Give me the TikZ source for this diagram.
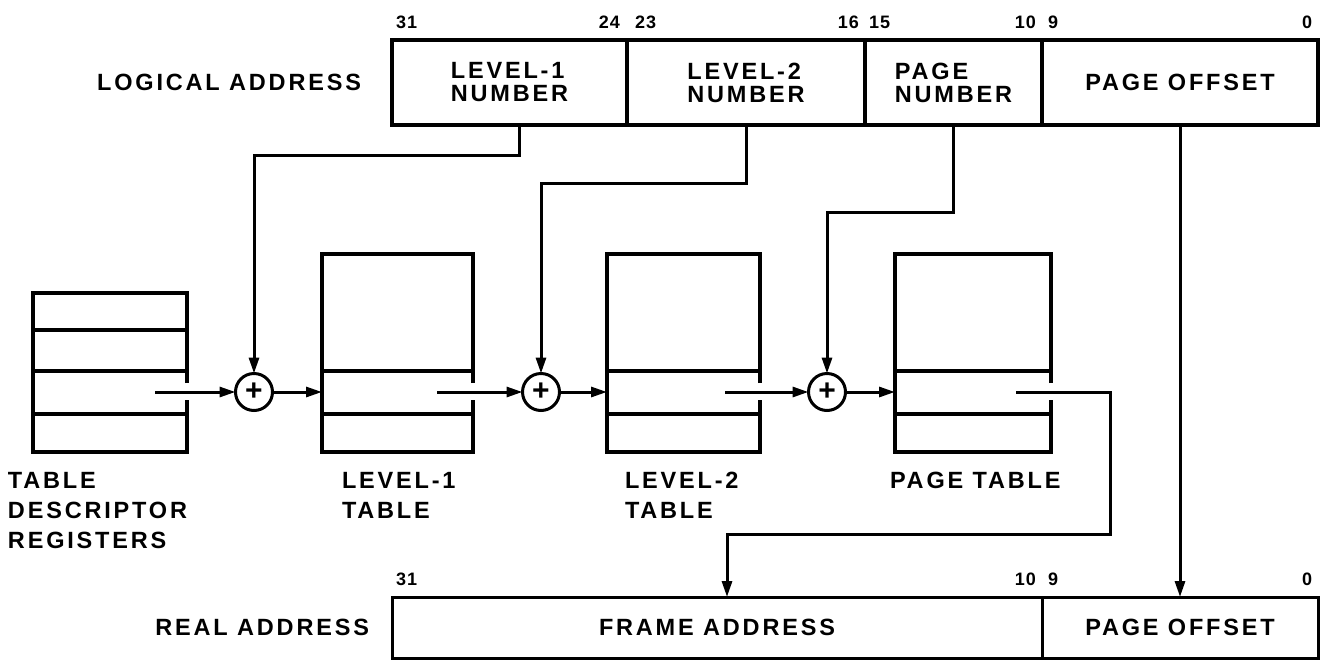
\documentclass[tikz,border=0pt]{standalone}
\usepackage{fontspec}
\setmainfont{Liberation Sans}[LetterSpace=12]
\newfontfamily\bitfont{Liberation Sans}[LetterSpace=6]
\newfontfamily\plainfont{Liberation Sans}
\usetikzlibrary{arrows.meta}

\tikzstyle{every node}=[inner sep=0pt, outer sep=0pt, font={\bfseries\fontsize{23.5}{23}\selectfont}]
\tikzstyle{field}=[draw, line width=3.4pt, minimum height=85pt, align=left]
\tikzstyle{realfield}=[field, line width=3pt, minimum height=61pt]
\tikzstyle{bits}=[font={\bitfont\bfseries\fontsize{18}{18}\selectfont}]
\tikzstyle{tablebox}=[minimum height=198pt]
\tikzstyle{tableline}=[line width=3.4pt]
\tikzstyle{tablename}=[align=left, anchor=north west, font={\bfseries\fontsize{23.5}{30}\selectfont}]
\tikzstyle{adder}=[draw, circle, line width=3pt, minimum size=37pt, font={\plainfont\bfseries\fontsize{30}{30}\selectfont}]
\tikzstyle{link}=[line width=3pt, -{Triangle[length=16pt,width=10pt]}]

% table outline, open on the right where the entry leaves
\newcommand\tableoutline[2]{%
  \draw[tableline] ([yshift=9pt]#2 -| #1.east) -- (#1.north east) -- (#1.north west)
    -- (#1.south west) -- (#1.south east) -- ([yshift=-8pt]#2 -| #1.east);}

\begin{document}
\begin{tikzpicture}[x=1pt, y=-1pt]
    \useasboundingbox (0,0) rectangle (1325,662);

    % logical address
    \node [field, minimum width=235pt] (lvl1) at (509.5,82.5) {LEVEL-1\\NUMBER};
    \node [field, minimum width=238pt, anchor=west] (lvl2) at (lvl1.east) {LEVEL-2\\NUMBER};
    \node [field, minimum width=177pt, anchor=west] (pnum) at (lvl2.east) {PAGE\\NUMBER};
    \node [field, minimum width=276pt, anchor=west] (poff) at (pnum.east) {PAGE OFFSET};
    \node [anchor=east] (logical) at ([xshift=-31pt]lvl1.west) {LOGICAL ADDRESS};

    \node [bits, anchor=base west] (b31) at ([shift={(4,-12)}]lvl1.north west) {31};
    \node [bits, anchor=base east] (b24) at ([shift={(-7,-12)}]lvl1.north east) {24};
    \node [bits, anchor=base west] (b23) at ([shift={(8,-12)}]lvl2.north west) {23};
    \node [bits, anchor=base east] (b16) at ([shift={(-6,-12)}]lvl2.north east) {16};
    \node [bits, anchor=base west] (b15) at ([shift={(4,-12)}]pnum.north west) {15};
    \node [bits, anchor=base east] (b10) at ([shift={(-6,-12)}]pnum.north east) {10};
    \node [bits, anchor=base west] (b9) at ([shift={(6,-12)}]poff.north west) {9};
    \node [bits, anchor=base east] (b0) at ([shift={(-6,-12)}]poff.north east) {0};

    % real address
    \node [realfield, minimum width=650pt] (frame) at (717,627.5) {FRAME ADDRESS};
    \node [realfield, minimum width=276pt, anchor=west] (rpoff) at (frame.east) {PAGE OFFSET};
    \node [anchor=east] (real) at ([xshift=-23pt]frame.west) {REAL ADDRESS};

    \node [bits, anchor=base west] (r31) at ([shift={(4,-12)}]frame.north west) {31};
    \node [bits, anchor=base east] (r10) at ([shift={(-6,-12)}]frame.north east) {10};
    \node [bits, anchor=base west] (r9) at ([shift={(6,-12)}]rpoff.north west) {9};
    \node [bits, anchor=base east] (r0) at ([shift={(-6,-12)}]rpoff.north east) {0};

    % tables
    \node [tablebox, minimum width=154pt, minimum height=159pt] (tdr) at (110,372.5) {};
    \node [tablebox, minimum width=151pt] (lvl1tab) at (397.5,353) {};
    \node [tablebox, minimum width=153pt] (lvl2tab) at (683.5,353) {};
    \node [tablebox, minimum width=156pt] (pgtab) at (973,353) {};

    \coordinate (tdrout) at (155,392);
    \coordinate (lvl1out) at (437,392);
    \coordinate (lvl2out) at (725,392);
    \coordinate (pgout) at (1016,392);

    \tableoutline{tdr}{tdrout}
    \tableoutline{lvl1tab}{lvl1out}
    \tableoutline{lvl2tab}{lvl2out}
    \tableoutline{pgtab}{pgout}
    \foreach \d in {37,78,121}
        \draw[tableline] ([yshift=-\d pt]tdr.north west) -- ([yshift=-\d pt]tdr.north east);
    \foreach \t in {lvl1tab,lvl2tab,pgtab}
        \foreach \d in {117,160}
            \draw[tableline] ([yshift=-\d pt]\t.north west) -- ([yshift=-\d pt]\t.north east);

    \node [tablename] (tdrname) at ([shift={(-25,20)}]tdr.south west) {TABLE\\DESCRIPTOR\\REGISTERS};
    \node [tablename] (lvl1name) at ([shift={(20,20)}]lvl1tab.south west) {LEVEL-1\\TABLE};
    \node [tablename] (lvl2name) at ([shift={(18,20)}]lvl2tab.south west) {LEVEL-2\\TABLE};
    \node [tablename] (pgname) at ([shift={(-5,20)}]pgtab.south west) {PAGE TABLE};

    % adders
    \node [adder] (add1) at (254,392) {+};
    \node [adder] (add2) at (541,392) {+};
    \node [adder] (add3) at (827,392) {+};

    % connectors
    \draw[link] (tdrout) -- (add1);
    \draw[link] (add1) -- (lvl1tab.west |- add1);
    \draw[link] (lvl1out) -- (add2);
    \draw[link] (add2) -- (lvl2tab.west |- add2);
    \draw[link] (lvl2out) -- (add3);
    \draw[link] (add3) -- (pgtab.west |- add3);

    \draw[link] ([xshift=10pt]lvl1.south) -- ++(0,30) -| (add1);
    \draw[link] (lvl2.south) -- ++(0,58) -| (add2);
    \draw[link] (pnum.south) -- ++(0,87) -| (add3);
    \draw[link] (poff.south) -- (rpoff.north);
    \draw[link] (pgout) -| ++(94,142) -| ([xshift=10pt]frame.north);
\end{tikzpicture}
\end{document}
